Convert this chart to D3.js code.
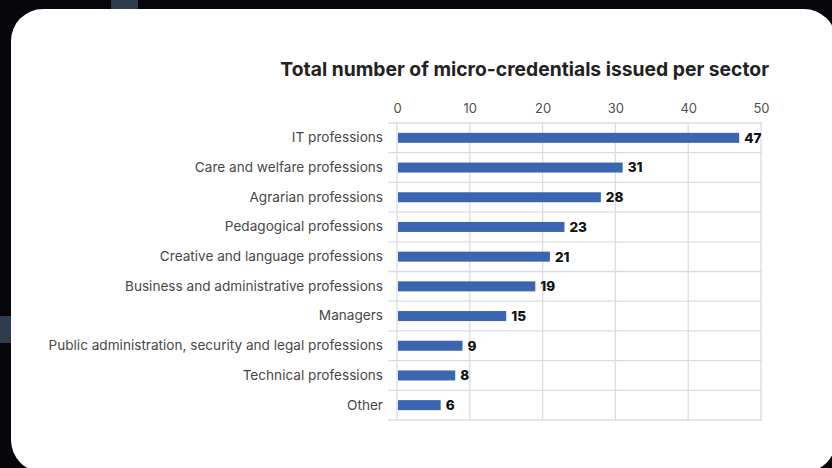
<!DOCTYPE html>
<html>
<head>
<meta charset="utf-8">
<script src="https://d3js.org/d3.v7.min.js"></script>
<style>
  body { margin: 0; background: #07070b; }
  svg { display: block; }
</style>
</head>
<body>
<div id="chart"></div>
<script>
// sectors and how many micro-credentials were issued for each
var sectors = ["IT professions", "Care and welfare professions", "Agrarian professions",
   "Pedagogical professions", "Creative and language professions",
   "Business and administrative professions ", "Managers",
   "Public administration, security and legal professions",
   "Technical professions", "Other"];
var counts = [47, 31, 28, 23, 21, 19, 15, 9, 8, 6];
var ticks = [0, 10, 20, 30, 40, 50];
var title = "Total number of micro-credentials issued per sector";

var width = 832, height = 468;
var svg = d3.select("#chart").append("svg")
   .attr("width", width)
   .attr("height", height);

// background bits and the white card
svg.append("rect").attr("width", width).attr("height", height).attr("fill", "#07070b");
svg.append("rect").attr("x", 111).attr("y", 0).attr("width", 27).attr("height", 12).attr("fill", "#2e3d4d");
svg.append("rect").attr("x", 0).attr("y", 316).attr("width", 14).attr("height", 27).attr("fill", "#2e3d4d");
svg.append("rect")
   .attr("x", 11).attr("y", 9)
   .attr("width", 825).attr("height", 463)
   .attr("rx", 32).attr("ry", 32)
   .attr("fill", "#ffffff");

var font = "Inter, 'Noto Sans', sans-serif";
var margin = {left: 397, right: 761, top: 123, bottom: 420};

var x = d3.scaleLinear().domain([0, 50]).range([margin.left, margin.right]);
var y = d3.scaleBand().domain(sectors).range([margin.top, margin.bottom]);

var g = svg.append("g");

// horizontal row lines (extend a bit left like ticks)
var rowLines = [margin.top].concat(sectors.map(function (d) { return y(d) + y.bandwidth(); }));
g.selectAll(".hline").data(rowLines).enter().append("line")
   .attr("x1", margin.left - 9).attr("x2", margin.right + 1)
   .attr("y1", function (d) { return d; }).attr("y2", function (d) { return d; })
   .attr("stroke", "#d9dce2").attr("stroke-width", 1.3);

// vertical grid lines
g.selectAll(".vline").data(ticks).enter().append("line")
   .attr("x1", function (d) { return x(d); }).attr("x2", function (d) { return x(d); })
   .attr("y1", margin.top).attr("y2", margin.bottom)
   .attr("stroke", "#d9dce2").attr("stroke-width", 1.3);

// top axis labels
var xAxis = d3.axisTop(x).tickValues(ticks).tickSize(0).tickPadding(9);
var ax = g.append("g").attr("transform", "translate(0," + (margin.top - 1) + ")").call(xAxis);
ax.select(".domain").remove();
ax.selectAll("text").attr("font-family", font).attr("font-size", 13).attr("fill", "#505050");

// category labels
var yAxis = d3.axisLeft(y).tickSize(0).tickPadding(14);
var ay = g.append("g").attr("transform", "translate(" + margin.left + ",0)").call(yAxis);
ay.select(".domain").remove();
ay.selectAll("text").attr("font-family", font).attr("font-size", 13.6)
   .attr("fill", "#474747");

// bars
var barH = 10;
g.selectAll(".bar").data(counts).enter().append("rect")
   .attr("x", x(0) + 1)
   .attr("y", function (d, i) { return y(sectors[i]) + y.bandwidth() / 2 - barH / 2; })
   .attr("width", function (d) { return x(d) - x(0) - 1; })
   .attr("height", barH)
   .attr("fill", "#3a65b0");

// value labels
g.selectAll(".val").data(counts).enter().append("text")
   .attr("x", function (d) { return x(d) + 5; })
   .attr("y", function (d, i) { return y(sectors[i]) + y.bandwidth() / 2; })
   .attr("dy", "0.36em")
   .attr("font-family", font).attr("font-size", 13.5).attr("font-weight", 800)
   .attr("fill", "#111")
   .text(function (d) { return d; });

// title
svg.append("text")
   .attr("x", 769).attr("y", 76)
   .attr("text-anchor", "end")
   .attr("font-family", font).attr("font-size", 19.3).attr("font-weight", 700)
   .attr("fill", "#222")
   .text(title);
</script>
</body>
</html>
